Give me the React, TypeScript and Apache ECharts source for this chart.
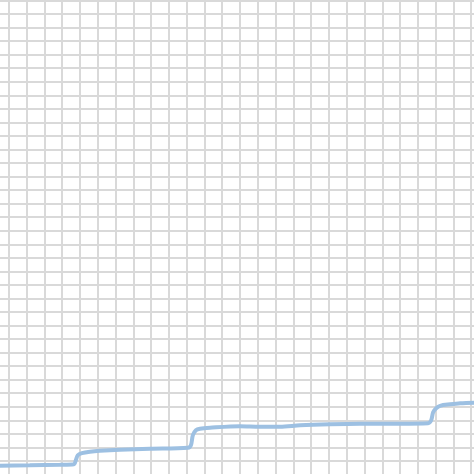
import React, { useEffect, useRef } from 'react';
import * as echarts from 'echarts';

// x and y in grid-cell units (one cell = one tick interval)
const xValues: number[] = [
    0.0, 0.49, 2.18, 3.87, 4.66, 4.77, 4.88, 5.11, 5.56, 6.12, 7.25, 8.93, 11.07, 11.24, 11.35,
    11.52, 11.75, 12.31, 14.0, 15.12, 16.25, 17.38, 19.06, 20.75, 23.0, 24.58, 24.75, 24.86,
    25.03, 25.25, 25.82, 26.38, 27.17, 28.0,
];
const yValues: number[] = [
    1.64, 1.65, 1.68, 1.72, 1.76, 2.05, 2.42, 2.57, 2.68, 2.75, 2.83, 2.9, 2.97, 3.16, 3.9,
    4.27, 4.38, 4.45, 4.56, 4.52, 4.52, 4.63, 4.71, 4.75, 4.75, 4.78, 5.0, 5.59,
    5.89, 6.07, 6.18, 6.26, 6.3, 6.31,
];

const App: React.FC = () => {
    const chartRef = useRef<HTMLDivElement>(null);

    useEffect(() => {
        if (!chartRef.current) return;
        const chart = echarts.init(chartRef.current, null, { renderer: 'svg' });

        const option = {
            animation: false,
            backgroundColor: '#ffffff',
            grid: { left: 0, right: 0, top: 0, bottom: 0, containLabel: false },
            xAxis: {
                type: 'value',
                min: 0,
                max: 28,
                interval: 1,
                axisLine: { show: false },
                axisTick: { show: false },
                axisLabel: { show: false },
                splitLine: { show: true, lineStyle: { color: '#d9d9d9', width: 2 } },
            },
            yAxis: {
                type: 'value',
                min: 0,
                max: 37,
                interval: 1,
                axisLine: { show: false },
                axisTick: { show: false },
                axisLabel: { show: false },
                splitLine: { show: true, lineStyle: { color: '#d9d9d9', width: 2 } },
            },
            series: [{
                type: 'line',
                data: xValues.map((x, i) => [x, yValues[i]]),
                showSymbol: false,
                smooth: 0.3,
                lineStyle: { color: '#9dc0e2', width: 4 },
            }],
        };

        chart.setOption(option);

        return () => {
            chart.dispose();
        };
    }, []);

    // the chart is a little larger than the page and shifted, so the grid lines
    // fall where the reference has them
    return (
        <div
            ref={chartRef}
            style={{ position: 'fixed', left: '-8.77px', top: '-12.55px', width: '497.54px', height: '501.35px' }}
        />
    );
};

export default App;
